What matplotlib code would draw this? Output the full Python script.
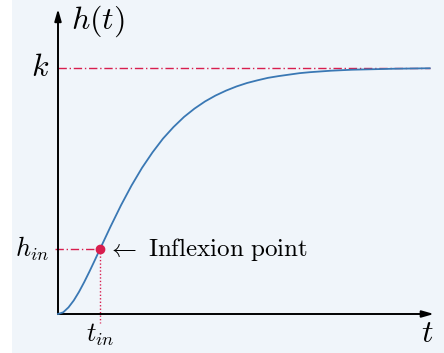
import matplotlib
matplotlib.use("Agg")
import matplotlib.pyplot as plt
from matplotlib.patches import Rectangle

plt.rcParams["mathtext.fontset"] = "cm"

# Step response of the process, time in units of t_in, output in units of k
t = [0.0, 0.125, 0.25, 0.375, 0.5, 0.625, 0.75, 0.875, 1.0, 1.25, 1.5, 1.75,
     2.0, 2.25, 2.5, 2.75, 3.0, 3.25, 3.5, 3.75, 4.0, 4.25, 4.5, 4.75, 5.0,
     5.25, 5.5, 5.75, 6.0, 6.5, 7.0, 7.5, 8.0, 8.85]
h = [0.0, 0.007, 0.027, 0.055, 0.090, 0.130, 0.173, 0.218, 0.264, 0.355,
     0.442, 0.522, 0.594, 0.657, 0.713, 0.760, 0.801, 0.835, 0.864, 0.888,
     0.908, 0.925, 0.939, 0.950, 0.960, 0.967, 0.973, 0.979, 0.983, 0.989,
     0.993, 0.995, 0.997, 0.999]
t_in = 1.0
h_in = 0.264
k = 1.0
t_end = 8.85

BLUE = "#3a78b4"
RED = "#d81e4e"
BG = "#f0f5fa"

W, H = 444, 353
ox, oy = 58, 314          # origin in pixels
sx, sy = 42.0, 246.0      # pixels per unit

fig = plt.figure(figsize=(W / 100, H / 100), dpi=100, facecolor="white")
ax = fig.add_axes([0, 0, 1, 1])
ax.set_xlim(-ox / sx, (W - ox) / sx)
ax.set_ylim(-(H - oy) / sy, oy / sy)
ax.axis("off")

ax.add_patch(Rectangle((12 / W, 0), 1, 1, transform=fig.transFigure,
                       facecolor=BG, edgecolor="none", zorder=0, clip_on=False))

# axes with arrow heads
arrow = dict(arrowstyle="-|>,head_length=0.7,head_width=0.2", color="black",
             lw=1.4, shrinkA=0, shrinkB=0)
ax.annotate("", xy=(8.95, 0), xytext=(0, 0), arrowprops=arrow, zorder=3)
ax.annotate("", xy=(0, 1.24), xytext=(0, 0), arrowprops=arrow, zorder=3)

# reference lines
ax.plot([0, t_end], [k, k], color=RED, lw=1.0, ls=(0, (6, 2, 1, 2)), zorder=2)
ax.plot([-0.08, t_in], [h_in, h_in], color=RED, lw=1.0, ls=(0, (6, 2, 1, 2)), zorder=2)
ax.plot([t_in, t_in], [h_in, -0.035], color=RED, lw=1.0, ls=(0, (1, 1.5)), zorder=2)

# response curve
ax.plot(t, h, color=BLUE, lw=1.3, zorder=4)
ax.plot([t_in], [h_in], "o", color=RED, ms=6, zorder=5)

# labels
ax.text(0.3, 1.19, r"$h(t)$", fontsize=23, ha="left", va="center")
ax.text(-0.2, k, r"$k$", fontsize=23, ha="right", va="center")
ax.text(-0.2, h_in, r"$h_{in}$", fontsize=19, ha="right", va="center")
ax.text(t_in, -0.085, r"$t_{in}$", fontsize=19, ha="center", va="center")
ax.text(8.8, -0.078, r"$t$", fontsize=23, ha="center", va="center")
ax.text(t_in + 0.17, h_in, r"$\leftarrow\ \mathrm{Inflexion\ point}$",
        fontsize=18, ha="left", va="center")

fig.savefig("out.png", dpi=100, facecolor="white")
